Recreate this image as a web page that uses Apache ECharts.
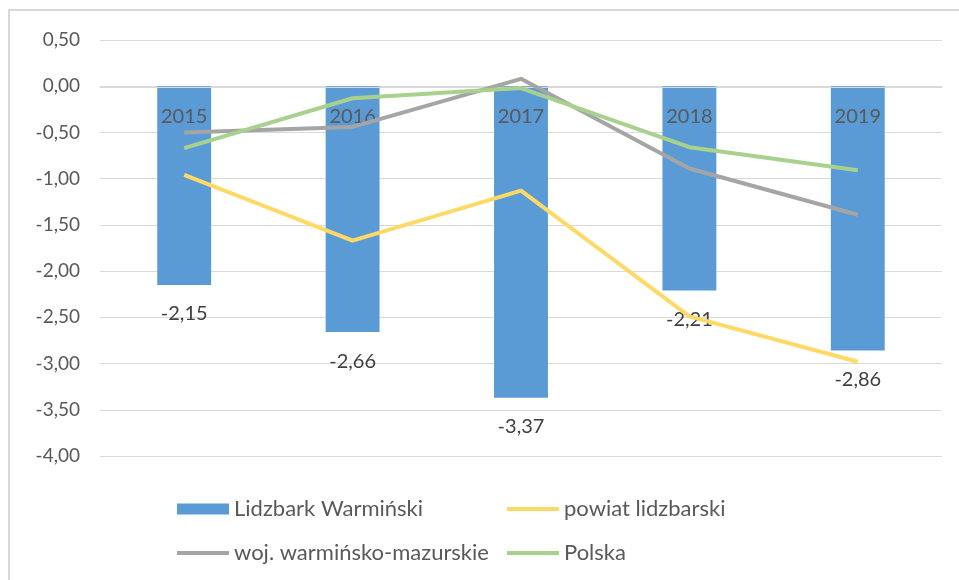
<!DOCTYPE html>
<html>
<head>
<meta charset="utf-8">
<title>Lidzbark Warmiński</title>
<script src="https://cdn.jsdelivr.net/npm/echarts@6/dist/echarts.min.js"></script>
<style>
  html, body { margin: 0; padding: 0; background: #fff; }
  #chart { width: 959px; height: 580px; }
</style>
</head>
<body>
<div id="chart"></div>
<script>
// dane
const years = ['2015', '2016', '2017', '2018', '2019']
const lidzbark = [-2.15, -2.66, -3.37, -2.21, -2.86]
const powiat = [-0.96, -1.67, -1.13, -2.49, -2.98]
const wojewodztwo = [-0.50, -0.44, 0.08, -0.89, -1.39]
const polska = [-0.67, -0.13, -0.02, -0.66, -0.91]

const FONT = 'Lato'
const TEXT = '#595959'
const fmt = v => v.toFixed(2).replace('.', ',')

// jedna legenda na pozycję, żeby kolumny były równo jak w Excelu
function legendItem(name, left, top, h) {
  return {
    left: left,
    top: top,
    icon: 'rect',
    itemWidth: 52,
    itemHeight: h,
    textStyle: { color: TEXT, fontSize: 22, fontFamily: FONT },
    data: [name]
  }
}

const chart = echarts.init(document.getElementById('chart'), null, { renderer: 'canvas' })

chart.setOption({
  animation: false,
  textStyle: { fontFamily: FONT },
  graphic: [
    {
      type: 'rect',
      shape: { x: 9, y: 10, width: 1000, height: 600 },
      style: { fill: 'none', stroke: '#d9d9d9', lineWidth: 2 },
      silent: true
    }
  ],
  grid: { left: 100, right: 17, top: 40, bottom: 124 },
  legend: [
    legendItem('Lidzbark Warmiński', 172, 493, 11),
    legendItem('powiat lidzbarski', 502, 493, 4),
    legendItem('woj. warmińsko-mazurskie', 172, 537, 4),
    legendItem('Polska', 502, 537, 4)
  ],
  xAxis: {
    type: 'category',
    data: years,
    z: 3,
    // oś kategorii na wysokości zera (0 jest 369 px nad dolną krawędzią siatki)
    offset: -369,
    axisLine: { onZero: false, lineStyle: { color: '#d9d9d9' } },
    axisTick: { show: false },
    axisLabel: { color: TEXT, fontSize: 20, margin: 20 }
  },
  yAxis: {
    type: 'value',
    min: -4,
    max: 0.5,
    interval: 0.5,
    axisLine: { show: false },
    axisTick: { show: false },
    splitLine: { lineStyle: { color: '#d9d9d9' } },
    axisLabel: { color: TEXT, fontSize: 19, margin: 20, formatter: fmt }
  },
  series: [
    {
      name: 'Lidzbark Warmiński',
      type: 'bar',
      data: lidzbark,
      barWidth: '32%',
      itemStyle: { color: '#5b9bd5' },
      label: {
        show: true,
        position: 'bottom',
        distance: 19,
        color: '#404040',
        fontSize: 20,
        formatter: p => fmt(p.value)
      }
    },
    {
      name: 'powiat lidzbarski',
      type: 'line',
      z: 4,
      data: powiat,
      symbol: 'none',
      lineStyle: { color: '#ffd966', width: 4 },
      itemStyle: { color: '#ffd966' }
    },
    {
      name: 'woj. warmińsko-mazurskie',
      type: 'line',
      z: 4,
      data: wojewodztwo,
      symbol: 'none',
      lineStyle: { color: '#a5a5a5', width: 4 },
      itemStyle: { color: '#a5a5a5' }
    },
    {
      name: 'Polska',
      type: 'line',
      z: 4,
      data: polska,
      symbol: 'none',
      lineStyle: { color: '#a9d18e', width: 4 },
      itemStyle: { color: '#a9d18e' }
    }
  ]
})
</script>
</body>
</html>
